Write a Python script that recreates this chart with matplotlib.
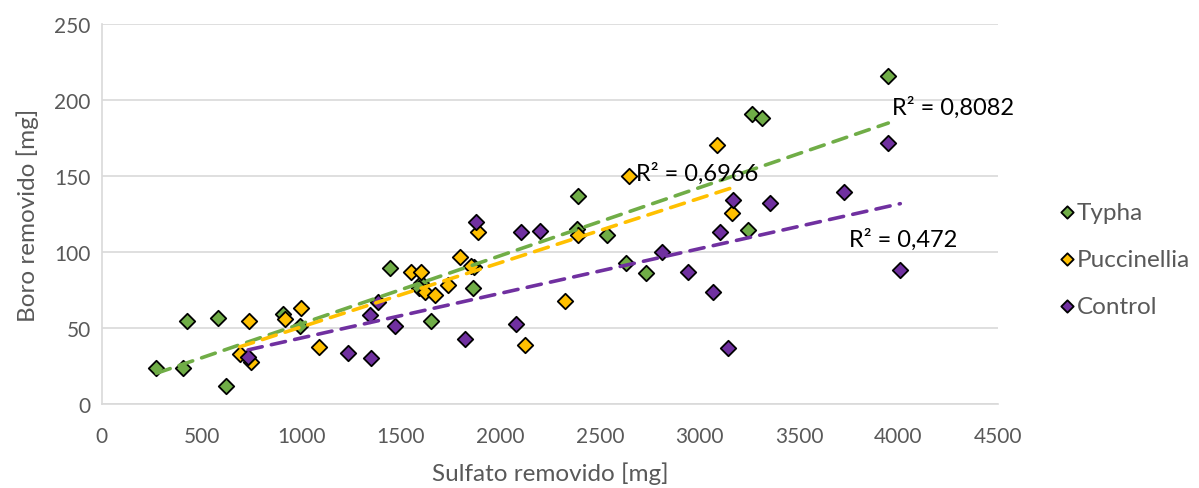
import numpy as np
import matplotlib
matplotlib.use("Agg")
import matplotlib.pyplot as plt

plt.rcParams['font.family'] = ['Lato', 'DejaVu Sans']

# Sulfate removed [mg] vs boron removed [mg] per species
typha_x = [274, 408, 425, 584, 621, 910, 993, 1445, 1604, 1590, 1654, 1864, 1870,
           2393, 2385, 2537, 2632, 2731, 3245, 3264, 3315, 3949]
typha_y = [23.7, 23.7, 54.4, 56.6, 11.6, 59.2, 51.5, 89.5, 79.4, 76, 54.5, 76.3, 90,
           136.6, 115, 111.4, 92.5, 86.2, 114.5, 190.8, 188.2, 216]

pucc_x = [692, 739, 751, 918, 998, 1090, 1554, 1604, 1620, 1671, 1738, 1796, 1855,
          1888, 2127, 2326, 2393, 2649, 3089, 3163]
pucc_y = [32.9, 54.4, 27.4, 55.9, 63, 37.3, 86.6, 86.6, 74, 71.9, 78.5, 96.5, 91,
          113.4, 39, 67.6, 111, 150.2, 170.3, 125.7]

ctrl_x = [734, 1234, 1345, 1353, 1387, 1470, 1821, 1877, 2079, 2102, 2198, 2811,
          2942, 3067, 3104, 3143, 3168, 3355, 3725, 3946, 4009]
ctrl_y = [30.7, 33.3, 58.5, 30, 67, 51, 42.8, 120, 52.4, 113.4, 113.6, 100.3,
          86.6, 73.9, 113.4, 36.6, 134.2, 132.2, 139.2, 171.7, 88]

series = [
    ("Typha", typha_x, typha_y, "#70AD47"),
    ("Puccinellia", pucc_x, pucc_y, "#FFC000"),
    ("Control", ctrl_x, ctrl_y, "#7030A0"),
]

r2_labels = ["R² = 0,8082", "R² = 0,6966", "R² = 0,472"]
r2_pos = [(3969, 195.5), (2684, 152), (3753, 108.6)]

fig = plt.figure(figsize=(11.99, 4.89), dpi=100)
ax = fig.add_axes([0.085, 0.1718, 0.7474, 0.7771])

grid_c = "#D9D9D9"
text_c = "#595959"

for name, xs, ys, col in series:
    ax.scatter(xs, ys, marker="D", s=62, facecolor=col, edgecolor="black",
               linewidth=1.3, zorder=3, label=name)

for name, xs, ys, col in series:
    xs_a = np.array(xs, dtype=float)
    ys_a = np.array(ys, dtype=float)
    m, b = np.polyfit(xs_a, ys_a, 1)
    xx = np.array([xs_a.min(), xs_a.max()])
    ax.plot(xx, m * xx + b, color=col, linewidth=2.6, dashes=(4, 2.6),
            zorder=4, solid_capstyle="round", dash_capstyle="round")

for txt, (tx, ty) in zip(r2_labels, r2_pos):
    ax.text(tx, ty, txt, fontsize=17, color="black", zorder=5,
            ha="left", va="center")

ax.set_xlim(0, 4500)
ax.set_ylim(0, 250)
ax.set_xticks(np.arange(0, 4501, 500))
ax.set_yticks(np.arange(0, 251, 50))
ax.grid(axis="y", color=grid_c, linewidth=1.2)
ax.set_axisbelow(True)
for s in ["top", "right"]:
    ax.spines[s].set_visible(False)
for s in ["left", "bottom"]:
    ax.spines[s].set_color(grid_c)
    ax.spines[s].set_linewidth(1.2)
ax.tick_params(length=0, labelsize=15, labelcolor=text_c)
ax.tick_params(axis="x", pad=16)
ax.tick_params(axis="y", pad=8)

ax.set_xlabel("Sulfato removido [mg]", fontsize=17.5, color=text_c, labelpad=11)
ax.set_ylabel("Boro removido [mg]", fontsize=17.5, color=text_c, labelpad=11)

leg = fig.legend(loc="center left", bbox_to_anchor=(0.884, 0.468), frameon=False,
                 fontsize=17.5, labelcolor=text_c, handletextpad=0.15,
                 labelspacing=1.07, markerscale=0.8, handlelength=0.55,
                 borderpad=0.0, borderaxespad=0.0)

fig.savefig("out.png", dpi=100)
